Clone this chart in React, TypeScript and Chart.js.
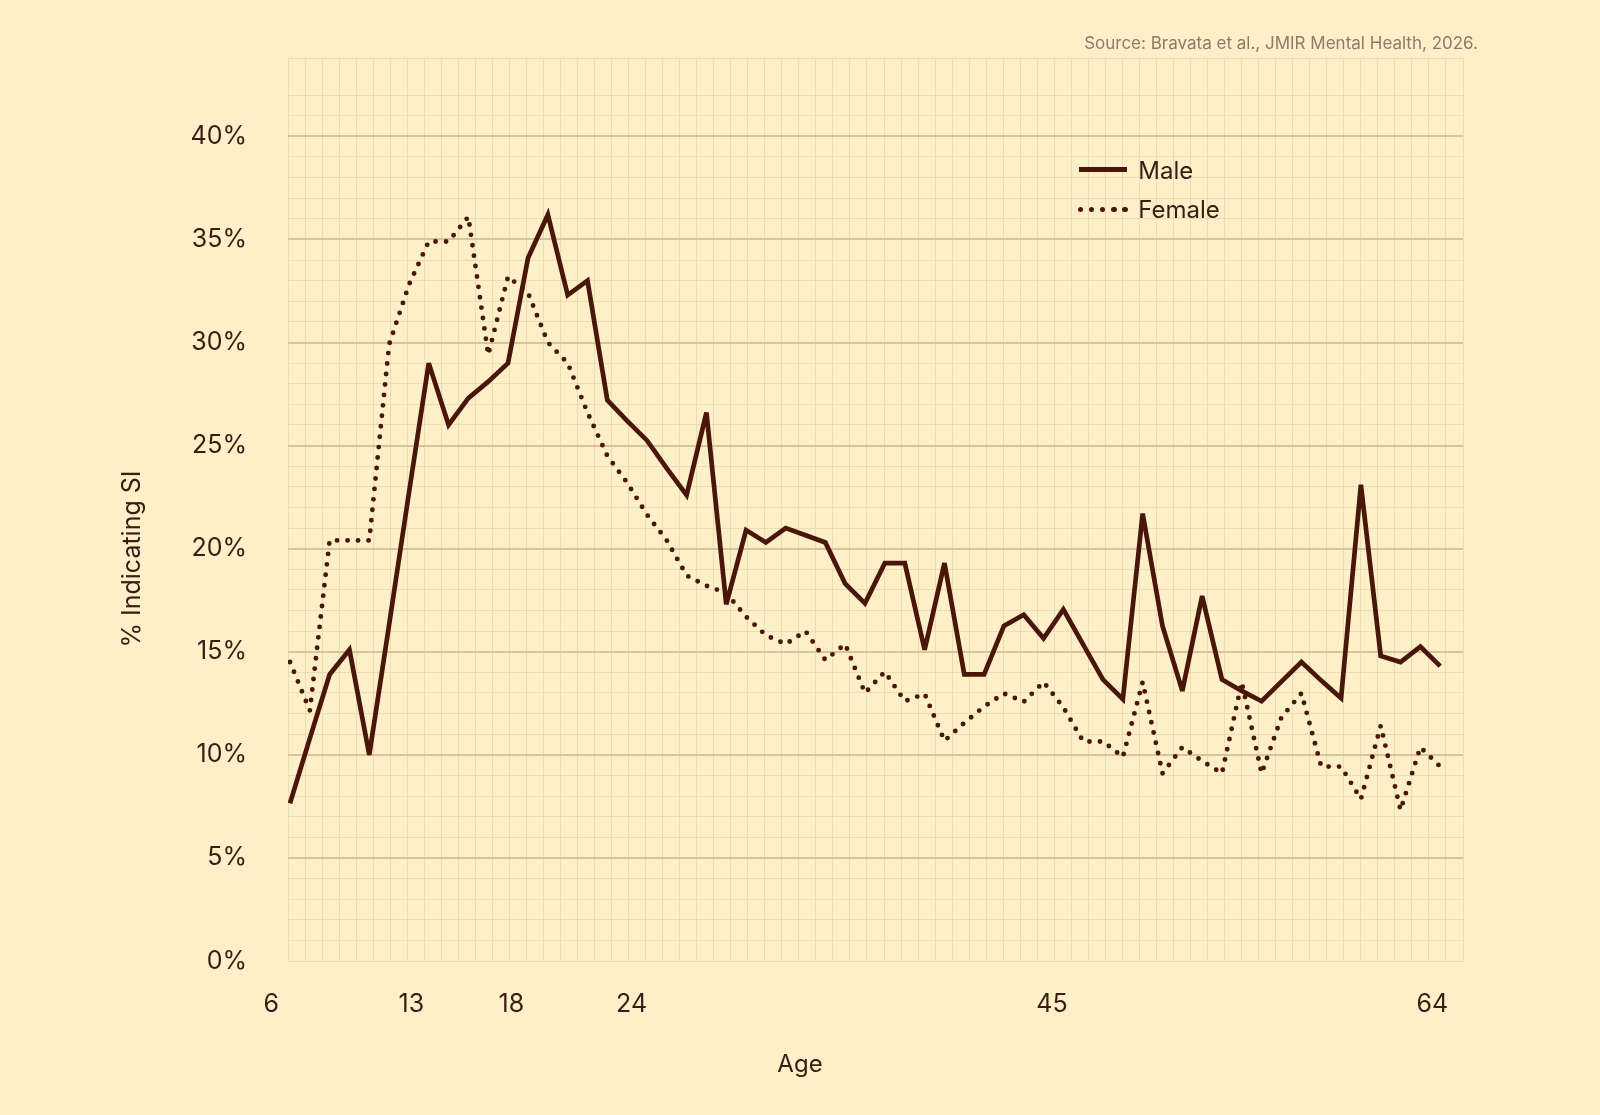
import React, { useEffect, useRef } from 'react';
import { Chart, registerables } from 'chart.js';

Chart.register(...registerables);

// x position (age) of every sample
const agePositions = [
  6.94, 7.93, 8.92, 9.91, 10.9, 11.89, 12.88, 13.87, 14.86, 15.85,
  16.84, 17.83, 18.83, 19.82, 20.81, 21.8, 22.79, 23.78, 24.77, 25.76,
  26.75, 27.74, 28.73, 29.72, 30.71, 31.7, 32.69, 33.68, 34.67, 35.66,
  36.65, 37.65, 38.64, 39.63, 40.62, 41.61, 42.6, 43.59, 44.58, 45.57,
  46.56, 47.55, 48.54, 49.53, 50.52, 51.51, 52.5, 53.49, 54.48, 55.47,
  56.46, 57.46, 58.45, 59.44, 60.43, 61.42, 62.41, 63.4, 64.39,
];

const maleValues = [
  7.65, 10.8, 13.9, 15.1, 10.0, 16.3, 22.7, 29.0, 26.0, 27.3,
  28.1, 29.0, 34.1, 36.2, 32.3, 33.0, 27.2, 26.2, 25.25, 23.9,
  22.6, 26.6, 17.3, 20.9, 20.3, 21.0, 20.65, 20.3, 18.3, 17.35,
  19.3, 19.3, 15.1, 19.3, 13.9, 13.9, 16.25, 16.8, 15.65, 17.05,
  15.35, 13.65, 12.7, 21.7, 16.25, 13.1, 17.7, 13.65, 13.1, 12.6,
  13.55, 14.5, 13.6, 12.75, 23.1, 14.8, 14.5, 15.25, 14.3,
];

const femaleValues = [
  14.5, 12.15, 20.4, 20.4, 20.4, 29.9, 32.8, 34.9, 34.9, 36.1,
  29.4, 33.2, 32.4, 30.0, 29.0, 26.6, 24.5, 23.2, 21.65, 20.4,
  18.7, 18.2, 17.85, 16.7, 15.8, 15.37, 16.0, 14.6, 15.37, 13.0,
  14.03, 12.6, 12.96, 10.68, 11.55, 12.34, 12.98, 12.57, 13.53, 12.3,
  10.65, 10.65, 9.89, 13.53, 9.1, 10.37, 9.7, 9.1, 13.53, 9.1,
  11.82, 12.98, 9.43, 9.43, 7.85, 11.41, 7.32, 10.37, 9.43,
];

const ageTicks = [6, 13, 18, 24, 45, 64];

const BG = '#fdf0c9';
const INK = '#4a160a';
const TEXT = '#3b1b12';
const MINOR = '#ecdcb2';
const MAJOR = '#d7c49c';
const NOTE = '#8c7b67';
const FONT = 'Inter, "Noto Sans", sans-serif';

// sharp spikes get bevelled like an svg stroke (miter limit 4)
const miterLimit = {
  id: 'miterLimit',
  beforeDatasetsDraw: (chart: any) => { chart.ctx.miterLimit = 4; },
};

export default function App() {
  const canvasRef = useRef<HTMLCanvasElement>(null);

  useEffect(() => {
    const ctx = canvasRef.current?.getContext('2d');
    if (!ctx) return;
    const chart = new Chart(ctx, {
      type: 'line',
      data: {
        datasets: [
          {
            label: 'Male',
            data: agePositions.map((a, i) => ({ x: a, y: maleValues[i] })),
            borderColor: INK,
            borderWidth: 4.7,
            borderJoinStyle: 'miter',
            pointRadius: 0,
            tension: 0,
            fill: false,
            xAxisID: 'x',
            yAxisID: 'y',
          },
          {
            label: 'Female',
            data: agePositions.map((a, i) => ({ x: a, y: femaleValues[i] })),
            borderColor: INK,
            borderWidth: 4.9,
            borderDash: [0, 10.5],
            borderCapStyle: 'round',
            pointRadius: 0,
            tension: 0,
            fill: false,
            xAxisID: 'x',
            yAxisID: 'y',
          },
        ],
      },
      options: {
        responsive: false,
        animation: false,
        layout: { padding: { top: 58, right: 137, bottom: 0, left: 0 } },
        plugins: { legend: { display: false }, tooltip: { enabled: false } },
        scales: {
          x: {
            type: 'linear',
            position: 'bottom',
            min: 6.84,
            max: 65.53,
            grid: { display: false },
            border: { display: false },
            afterBuildTicks: (s: any) => { s.ticks = ageTicks.map((v) => ({ value: v })); },
            afterFit: (s: any) => { s.height = 154; },
            ticks: {
              autoSkip: false,
              maxRotation: 0,
              padding: 20,
              color: TEXT,
              font: { family: FONT, size: 25 },
              callback: (v: any) => String(v),
            },
          },
          paper: {
            type: 'linear',
            position: 'bottom',
            min: 0,
            max: 69,
            ticks: { display: false, stepSize: 1 },
            grid: { color: MINOR, lineWidth: 1, drawTicks: false },
            border: { display: false },
            afterFit: (s: any) => { s.height = 0; },
          },
          y: {
            type: 'linear',
            min: 0,
            max: 43.8,
            border: { display: false },
            afterFit: (s: any) => { s.width = 288; },
            grid: {
              drawTicks: false,
              color: (c: any) => (c.tick.value % 5 === 0 && c.tick.value > 0 ? MAJOR : MINOR),
              lineWidth: (c: any) => (c.tick.value % 5 === 0 && c.tick.value > 0 ? 2 : 1),
            },
            ticks: {
              stepSize: 1,
              autoSkip: false,
              padding: 41,
              color: TEXT,
              font: { family: FONT, size: 25 },
              callback: (v: any) => (v % 5 === 0 ? `${v}%` : ''),
            },
          },
        },
      },
      plugins: [miterLimit],
    });
    return () => chart.destroy();
  }, []);

  const text: React.CSSProperties = { position: 'absolute', lineHeight: 1, whiteSpace: 'nowrap', fontFamily: FONT };
  const dot: React.CSSProperties = { position: 'absolute', width: 5.2, height: 5.2, borderRadius: '50%', background: INK, top: 206.7 };

  return (
    <div style={{ position: 'fixed', left: 0, top: 0, width: 1600, height: 1115, background: BG, overflow: 'hidden' }}>
      <canvas ref={canvasRef} width={1600} height={1115} style={{ position: 'absolute', left: 0, top: 0 }} />
      <div style={{ ...text, right: 122, top: 34.6, fontSize: 17, color: NOTE }}>
        Source: Bravata et al., JMIR Mental Health, 2026.
      </div>
      <div style={{ position: 'absolute', left: 1079.3, top: 166.8, width: 47.4, height: 5, background: INK }} />
      <div style={{ ...text, left: 1138.3, top: 158.6, fontSize: 24, color: TEXT }}>Male</div>
      {[1080.7, 1091.8, 1102.9, 1114, 1125].map((cx) => (
        <div key={cx} style={{ ...dot, left: cx - 2.6 }} />
      ))}
      <div style={{ ...text, left: 1138.3, top: 197.6, fontSize: 24, color: TEXT }}>Female</div>
      <div style={{ ...text, left: 0, width: 1600, textAlign: 'center', top: 1052, fontSize: 24, color: TEXT }}>Age</div>
      <div
        style={{
          ...text,
          left: 131.4 - 150,
          top: 559 - 15,
          width: 300,
          height: 30,
          lineHeight: '30px',
          textAlign: 'center',
          fontSize: 25,
          color: TEXT,
          transform: 'rotate(-90deg)',
        }}
      >
        % Indicating SI
      </div>
    </div>
  );
}
